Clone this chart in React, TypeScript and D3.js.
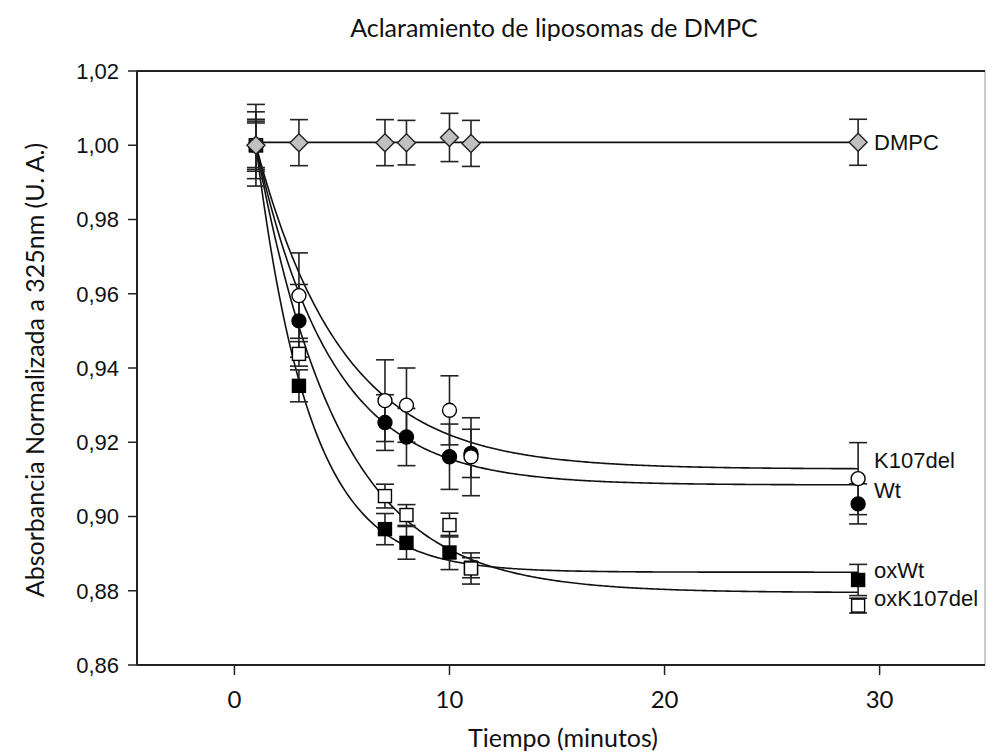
import React from 'react';
import * as d3 from 'd3';

// ---- data ----
const times = [1, 3, 7, 8, 10, 11, 29];

const dmpcValues = [1.0, 1.0007, 1.0007, 1.0007, 1.0021, 1.0005, 1.0008];
const dmpcErrors = [0.0065, 0.0062, 0.0062, 0.006, 0.0065, 0.0062, 0.0062];

const k107delValues = [1.0, 0.9595, 0.9312, 0.93, 0.9286, 0.9161, 0.9102];
const k107delErrors = [0.011, 0.0115, 0.011, 0.01, 0.0093, 0.0105, 0.0097];

const wtValues = [1.0, 0.9527, 0.9253, 0.9214, 0.9161, 0.917, 0.9034];
const wtErrors = [0.009, 0.0098, 0.0075, 0.0077, 0.0088, 0.0065, 0.0054];

const oxK107delValues = [1.0, 0.9438, 0.9055, 0.9004, 0.8977, 0.886, 0.876];
const oxK107delErrors = [0.006, 0.0033, 0.0032, 0.0028, 0.0032, 0.0042, 0.002];

const oxWtValues = [1.0, 0.9352, 0.8966, 0.8929, 0.8903, 0.8862, 0.8829];
const oxWtErrors = [0.007, 0.0043, 0.0042, 0.0044, 0.0046, 0.0027, 0.0042];

// exponential-decay fit parameters (plateau, rate)
const fitPlateaus = { K107del: 0.9128, Wt: 0.9085, oxK107del: 0.8795, oxWt: 0.885 };
const fitRates = { K107del: 0.25, Wt: 0.285, oxK107del: 0.26, oxWt: 0.4 };

// label anchor values (data units) for the right-hand series labels
const labelValues = { DMPC: 1.0008, K107del: 0.9152, Wt: 0.9071, oxWt: 0.8856, oxK107del: 0.878 };

const xTicks = [0, 10, 20, 30];
const yTicks = [0.86, 0.88, 0.9, 0.92, 0.94, 0.96, 0.98, 1.0, 1.02];

const title = 'Aclaramiento de liposomas de DMPC';
const xTitle = 'Tiempo (minutos)';
const yTitle = 'Absorbancia Normalizada a 325nm (U. A.)';

type Marker = 'diamond' | 'circle' | 'square';
interface Series {
  name: string;
  values: number[];
  errors: number[];
  marker: Marker;
  fill: string;
}

// draw order: bottom first
const series: Series[] = [
  { name: 'oxWt', values: oxWtValues, errors: oxWtErrors, marker: 'square', fill: '#000' },
  { name: 'oxK107del', values: oxK107delValues, errors: oxK107delErrors, marker: 'square', fill: '#fff' },
  { name: 'Wt', values: wtValues, errors: wtErrors, marker: 'circle', fill: '#000' },
  { name: 'K107del', values: k107delValues, errors: k107delErrors, marker: 'circle', fill: '#fff' },
  { name: 'DMPC', values: dmpcValues, errors: dmpcErrors, marker: 'diamond', fill: '#c0c0c0' },
];

const W = 987;
const H = 754;
const plot = { left: 137, top: 71, right: 985, bottom: 665 };

const SANS = "'Liberation Sans', Arial, sans-serif";
const HUMAN = "Lato, 'Open Sans', sans-serif";

export default function App() {
  const x = d3.scaleLinear().domain([-4.53, 34.9]).range([plot.left, plot.right]);
  const y = d3.scaleLinear().domain([0.86, 1.02]).range([plot.bottom, plot.top]);

  const fitTimes = d3.range(times[0], times[times.length - 1] + 0.001, 0.1);
  const line = d3
    .line<[number, number]>()
    .x((d) => x(d[0]))
    .y((d) => y(d[1]))
    .curve(d3.curveLinear);

  const fitPath = (name: keyof typeof fitPlateaus) => {
    const p = fitPlateaus[name];
    const k = fitRates[name];
    const start = 1.0;
    const pts: [number, number][] = fitTimes.map((t) => [t, p + (start - p) * Math.exp(-k * (t - times[0]))]);
    return line(pts) || '';
  };

  const dmpcMean = d3.mean(dmpcValues) as number;
  const dmpcLine = line([
    [times[0], dmpcMean],
    [times[times.length - 1], dmpcMean],
  ]);

  const fmt = (v: number) => d3.format('.2f')(v).replace('.', ',');
  const capHalf = 9;

  const markerEl = (s: Series, t: number, v: number, key: string) => {
    const cx = x(t);
    const cy = y(v);
    if (s.marker === 'circle') {
      return <circle key={key} cx={cx} cy={cy} r={7} fill={s.fill} stroke="#000" strokeWidth={1.4} />;
    }
    if (s.marker === 'square') {
      return <rect key={key} x={cx - 6.5} y={cy - 6.5} width={13} height={13} fill={s.fill} stroke="#000" strokeWidth={1.4} />;
    }
    const r = 9;
    return (
      <path
        key={key}
        d={`M${cx},${cy - r}L${cx + r},${cy}L${cx},${cy + r}L${cx - r},${cy}Z`}
        fill={s.fill}
        stroke="#222"
        strokeWidth={1.4}
      />
    );
  };

  return (
    <svg width={W} height={H} style={{ position: 'absolute', left: 0, top: 0, background: '#fff' }}>
      <rect x={0} y={0} width={W} height={H} fill="#fff" />
      {/* title */}
      <text x={554} y={37} textAnchor="middle" fontFamily={HUMAN} fontSize={25} fill="#111">
        {title}
      </text>

      {/* frame */}
      <line x1={plot.right} y1={plot.top} x2={plot.right} y2={plot.bottom} stroke="#bbb" strokeWidth={1.5} />
      <line x1={plot.left} y1={plot.top} x2={plot.right} y2={plot.top} stroke="#222" strokeWidth={2} />
      <line x1={plot.left} y1={plot.bottom} x2={plot.right} y2={plot.bottom} stroke="#222" strokeWidth={2} />
      <line x1={plot.left} y1={plot.top} x2={plot.left} y2={plot.bottom} stroke="#222" strokeWidth={2} />

      {/* y axis ticks */}
      {yTicks.map((t) => (
        <g key={`yt${t}`}>
          <line x1={plot.left - 9} x2={plot.left} y1={y(t)} y2={y(t)} stroke="#222" strokeWidth={1.5} />
          <text x={plot.left - 18} y={y(t)} dy="0.36em" textAnchor="end" fontFamily={SANS} fontSize={22} fill="#111">
            {fmt(t)}
          </text>
        </g>
      ))}

      {/* x axis ticks */}
      {xTicks.map((t) => (
        <g key={`xt${t}`}>
          <line x1={x(t)} x2={x(t)} y1={plot.bottom + 1} y2={plot.bottom + 10} stroke="#222" strokeWidth={1.5} />
          <text x={x(t)} y={y(0.86) + 43} textAnchor="middle" fontFamily={HUMAN} fontSize={24} fill="#111">
            {t}
          </text>
        </g>
      ))}

      <text x={563} y={747} textAnchor="middle" fontFamily={HUMAN} fontSize={25} fill="#111">
        {xTitle}
      </text>
      <text
        transform={`translate(44, ${(plot.top + plot.bottom) / 2 + 2}) rotate(-90)`}
        textAnchor="middle"
        fontFamily={HUMAN}
        fontSize={25}
        fill="#111"
      >
        {yTitle}
      </text>

      {/* fitted curves */}
      {(['K107del', 'Wt', 'oxK107del', 'oxWt'] as const).map((n) => (
        <path key={`fit${n}`} d={fitPath(n)} fill="none" stroke="#111" strokeWidth={1.6} />
      ))}
      <path d={dmpcLine || ''} fill="none" stroke="#111" strokeWidth={1.6} />

      {/* error bars */}
      {series.map((s) =>
        times.map((t, i) => {
          const cx = x(t);
          const y1 = y(s.values[i] + s.errors[i]);
          const y2 = y(s.values[i] - s.errors[i]);
          return (
            <g key={`eb${s.name}${i}`} stroke="#222" strokeWidth={1.6}>
              <line x1={cx} x2={cx} y1={y1} y2={y2} />
              <line x1={cx - capHalf} x2={cx + capHalf} y1={y1} y2={y1} />
              <line x1={cx - capHalf} x2={cx + capHalf} y1={y2} y2={y2} />
            </g>
          );
        })
      )}

      {/* markers */}
      {series.map((s) => times.map((t, i) => markerEl(s, t, s.values[i], `m${s.name}${i}`)))}

      {/* series labels */}
      {series.map((s) => (
        <text
          key={`lab${s.name}`}
          x={x(times[times.length - 1]) + 16}
          y={y(labelValues[s.name as keyof typeof labelValues])}
          dy="0.36em"
          fontFamily={SANS}
          fontSize={22}
          fill="#111"
        >
          {s.name}
        </text>
      ))}
    </svg>
  );
}
